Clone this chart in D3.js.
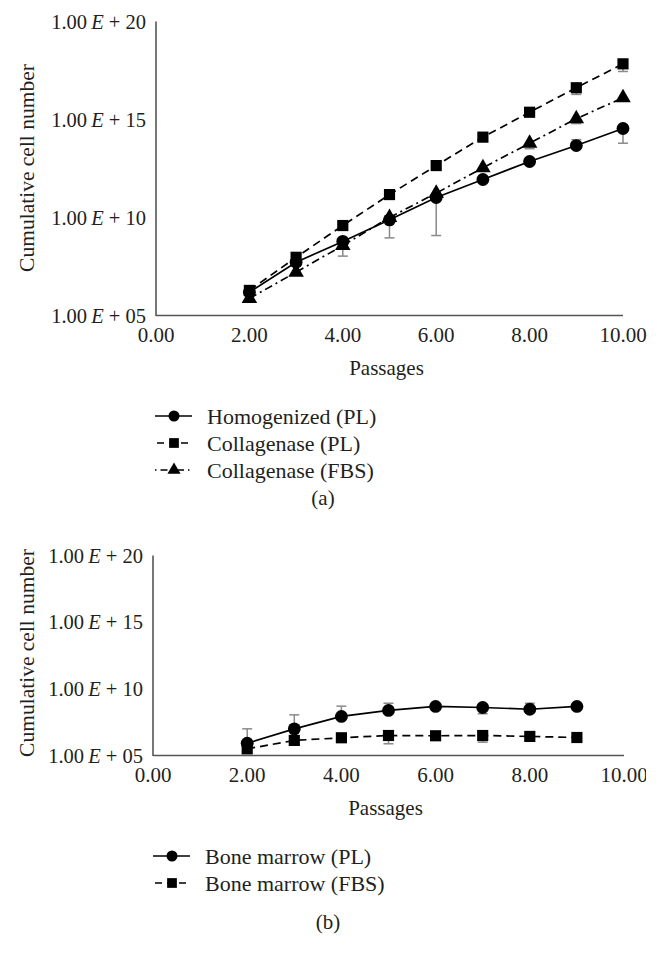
<!DOCTYPE html>
<html><head><meta charset="utf-8">
<script src="https://cdn.jsdelivr.net/npm/d3@7"></script>
<style>
body{margin:0;background:#fff;}
svg text{font-family:"Liberation Serif","Times New Roman",serif;fill:#231f20;}
</style></head>
<body>
<svg id="c" width="661" height="967"></svg>
<script>
// ---- data (values are log10 of cumulative cell number) ----
const passages = [2, 3, 4, 5, 6, 7, 8, 9, 10];
const xTicks = [0, 2, 4, 6, 8, 10];
const yTicks = [5, 10, 15, 20]; // exponents

const homogenizedPL = [6.19, 7.72, 8.78, 9.88, 11.02, 11.94, 12.86, 13.67, 14.54];
const homogenizedPLErrDown = [0, 0, 0.75, 0.92, 1.94, 0, 0, 0, 0.75];
const homogenizedPLErrUp   = [0, 0, 0, 0, 0, 0, 0, 0.3, 0];

const collagenasePL = [6.28, 7.97, 9.59, 11.17, 12.65, 14.10, 15.37, 16.62, 17.84];
const collagenasePLErrDown = [0, 0, 0, 0, 0, 0, 0, 0.34, 0.39];
const collagenasePLErrUp   = [0, 0, 0, 0, 0, 0, 0, 0, 0];

const collagenaseFBS = [5.87, 7.21, 8.57, 10.0, 11.24, 12.54, 13.79, 15.04, 16.11];
const collagenaseFBSErrDown = [0, 0, 0, 0, 0, 0, 0.28, 0.25, 0];
const collagenaseFBSErrUp   = [0, 0.3, 0, 0, 0, 0, 0, 0, 0];

const passagesB = [2, 3, 4, 5, 6, 7, 8, 9];
const boneMarrowPL = [5.92, 7.0, 7.93, 8.38, 8.68, 8.6, 8.47, 8.68];
const boneMarrowPLErrUp   = [1.08, 1.05, 0.77, 0.54, 0, 0, 0.45, 0];
const boneMarrowPLErrDown = [0, 0, 0, 0, 0, 0.47, 0, 0];
const boneMarrowFBS = [5.5, 6.13, 6.33, 6.5, 6.48, 6.5, 6.43, 6.35];
const boneMarrowFBSErrUp   = [0, 0, 0, 0, 0, 0, 0, 0];
const boneMarrowFBSErrDown = [0, 0, 0, 0.62, 0, 0.5, 0, 0];

const legendA = ["Homogenized (PL)", "Collagenase (PL)", "Collagenase (FBS)"];
const legendB = ["Bone marrow (PL)", "Bone marrow (FBS)"];

// ---- drawing ----
const svg = d3.select("#c");
const FS = 21;
const dashStyles = {solid: null, dash: "8,5", dashdot: "8,4,2,4"};

function markerPath(shape){
  if(shape==="circle") return d3.symbol(d3.symbolCircle, 130)();
  if(shape==="square") return d3.symbol(d3.symbolSquare, 125)();
  return d3.symbol(d3.symbolTriangle, 105)();
}

function yLabel(g, exp){
  const t = g.append("text").attr("text-anchor","end").attr("font-size",20.5).attr("dy","0.35em");
  t.append("tspan").text("1.00");
  t.append("tspan").attr("font-style","italic").text("\u2009E");
  t.append("tspan").text(" + " + String(exp).padStart(2,"0"));
  return t;
}

function drawChart(cfg){
  const g = svg.append("g");
  if(cfg.clip){
    svg.append("clipPath").attr("id", cfg.clip).append("rect")
      .attr("x",0).attr("y",0).attr("width",646).attr("height",967);
    g.attr("clip-path","url(#"+cfg.clip+")");
  }
  const x = d3.scaleLinear().domain([0,10]).range([cfg.x0, cfg.x1]);
  const y = d3.scaleLog().domain([1e5,1e20]).range([cfg.y0, cfg.y1]);

  // axes lines
  g.append("line").attr("x1",x(0)).attr("x2",x(0)).attr("y1",y(1e20)).attr("y2",y(1e5)+0.5)
    .attr("stroke","#555").attr("stroke-width",1.6);
  g.append("line").attr("x1",x(0)).attr("x2",x(10)).attr("y1",y(1e5)).attr("y2",y(1e5))
    .attr("stroke","#555").attr("stroke-width",1.6);

  yTicks.forEach(e=>{
    const t = yLabel(g, e);
    t.attr("x", x(0)-10).attr("y", y(Math.pow(10,e)));
  });
  xTicks.forEach(v=>{
    g.append("text").attr("x",x(v)).attr("y",y(1e5)+19).attr("dy","0.35em")
      .attr("text-anchor","middle").attr("font-size",FS).text(v.toFixed(2));
  });
  g.append("text").attr("x",x(5)-3).attr("y",y(1e5)+52).attr("dy","0.35em")
    .attr("text-anchor","middle").attr("font-size",FS).text("Passages");
  g.append("text").attr("transform","translate("+cfg.titleX+","+cfg.titleY+") rotate(-90)")
    .attr("text-anchor","middle").attr("dy","0.35em").attr("font-size",21.5).text("Cumulative cell number");

  // error bars
  cfg.series.forEach(s=>{
    s.values.forEach((v,i)=>{
      const px = x(s.xs[i]);
      const segs = [];
      if(s.errDown[i]>0) segs.push(v - s.errDown[i]);
      if(s.errUp[i]>0) segs.push(v + s.errUp[i]);
      segs.forEach(end=>{
        g.append("line").attr("x1",px).attr("x2",px)
          .attr("y1",y(Math.pow(10,v))).attr("y2",y(Math.pow(10,end)))
          .attr("stroke","#8a8a8a").attr("stroke-width",1.5);
        g.append("line").attr("x1",px-5).attr("x2",px+5)
          .attr("y1",y(Math.pow(10,end))).attr("y2",y(Math.pow(10,end)))
          .attr("stroke","#8a8a8a").attr("stroke-width",1.5);
      });
    });
  });
  // lines
  cfg.series.forEach(s=>{
    const line = d3.line().x((d,i)=>x(s.xs[i])).y(d=>y(Math.pow(10,d)));
    g.append("path").attr("d",line(s.values)).attr("fill","none").attr("stroke","#000")
      .attr("stroke-width",1.7).attr("stroke-dasharray",dashStyles[s.dash]);
  });
  // markers
  cfg.series.forEach(s=>{
    s.values.forEach((v,i)=>{
      g.append("path").attr("d",markerPath(s.shape))
        .attr("transform","translate("+x(s.xs[i])+","+y(Math.pow(10,v))+")").attr("fill","#000");
    });
  });

  // legend
  cfg.series.forEach((s,i)=>{
    const ly = cfg.legY + i*cfg.legStep;
    g.append("line").attr("x1",cfg.legX).attr("x2",cfg.legX+37).attr("y1",ly).attr("y2",ly)
      .attr("stroke","#000").attr("stroke-width",1.7)
      .attr("stroke-dasharray", s.dash==="solid"?null:(s.dash==="dash"?"7,5":"1.5,4,7,4"))
      .attr("stroke-dashoffset", s.dash==="dash"? -2 : 0);
    g.append("path").attr("d",d3.symbol(s.shape==="circle"?d3.symbolCircle:(s.shape==="square"?d3.symbolSquare:d3.symbolTriangle), s.shape==="triangle"?75:95)())
      .attr("transform","translate("+(cfg.legX+19)+","+ly+")").attr("fill","#000");
    g.append("text").attr("x",cfg.legX+52).attr("y",ly).attr("dy","0.35em")
      .attr("font-size",22).text(s.name);
  });
  g.append("text").attr("x",cfg.capX).attr("y",cfg.capY).attr("dy","0.35em")
    .attr("text-anchor","middle").attr("font-size",FS).text(cfg.caption);
}

drawChart({
  x0:156, x1:623, y0:315.5, y1:21.5, titleX:26, titleY:168,
  legX:155, legY:416, legStep:27, capX:323, capY:498, caption:"(a)",
  series:[
    {name:legendA[0], xs:passages, values:homogenizedPL, errDown:homogenizedPLErrDown, errUp:homogenizedPLErrUp, shape:"circle", dash:"solid"},
    {name:legendA[1], xs:passages, values:collagenasePL, errDown:collagenasePLErrDown, errUp:collagenasePLErrUp, shape:"square", dash:"dash"},
    {name:legendA[2], xs:passages, values:collagenaseFBS, errDown:collagenaseFBSErrDown, errUp:collagenaseFBSErrUp, shape:"triangle", dash:"dashdot"}
  ]
});
drawChart({
  x0:153, x1:624, y0:755.5, y1:555.5, titleX:26, titleY:653, clip:"clipB",
  legX:153, legY:856, legStep:27, capX:328, capY:922, caption:"(b)",
  series:[
    {name:legendB[0], xs:passagesB, values:boneMarrowPL, errDown:boneMarrowPLErrDown, errUp:boneMarrowPLErrUp, shape:"circle", dash:"solid"},
    {name:legendB[1], xs:passagesB, values:boneMarrowFBS, errDown:boneMarrowFBSErrDown, errUp:boneMarrowFBSErrUp, shape:"square", dash:"dash"}
  ]
});
</script>
</body></html>
